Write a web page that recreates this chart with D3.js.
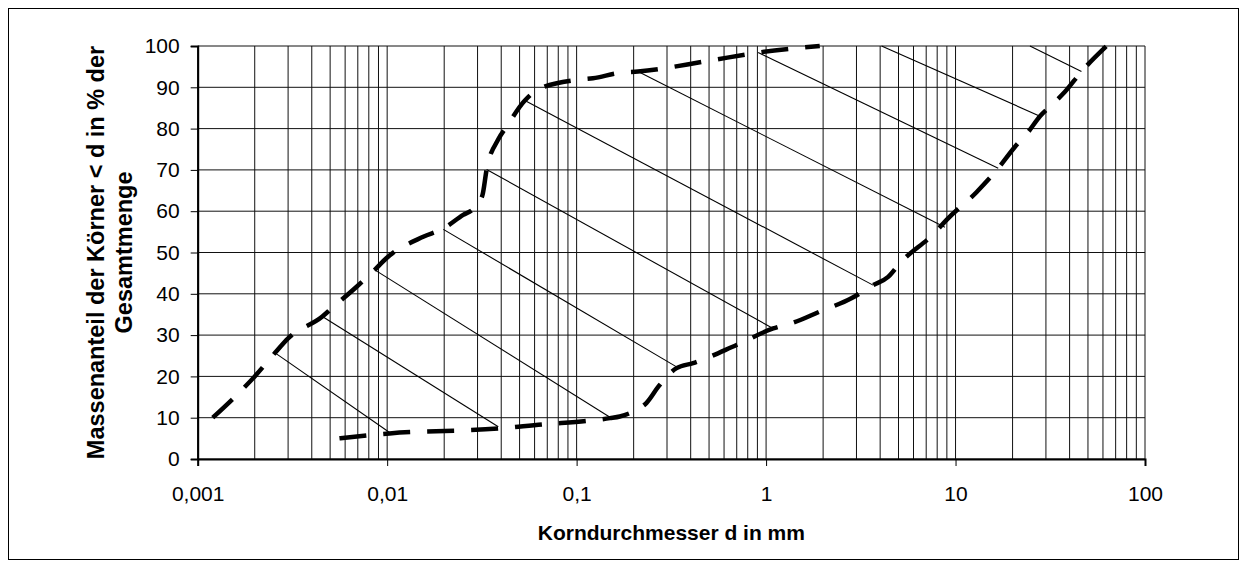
<!DOCTYPE html>
<html>
<head>
<meta charset="utf-8">
<script src="https://cdn.jsdelivr.net/npm/d3@7"></script>
<style>
  body { margin: 0; background: #fff; }
  text { font-family: Arial, "Liberation Sans", sans-serif; fill: #000; }
</style>
</head>
<body>
<svg width="1246" height="567"></svg>
<script>
// Sieblinien: obere und untere Grenzkurve (d in mm, Massenanteil in %)
var upperD   = [0.0012, 0.002, 0.00256, 0.003, 0.00455, 0.0051, 0.0069, 0.0086, 0.0099, 0.0155, 0.0198, 0.0252, 0.0284, 0.0318, 0.0335, 0.0386, 0.0427, 0.0533, 0.0627, 0.1, 0.122, 0.169, 0.211, 0.494, 0.908, 1.92];
var upperPct = [10, 20, 25.7, 29.2, 34.5, 36.5, 41.7, 45.8, 48.6, 53.8, 55.8, 59.1, 60.5, 63.8, 70.1, 77.4, 80.5, 86.8, 89.5, 91.8, 92.2, 93.5, 93.8, 96.4, 98.4, 100];

var lowerD   = [0.0056, 0.0103, 0.0394, 0.0667, 0.113, 0.15, 0.169, 0.203, 0.234, 0.27, 0.31, 0.337, 0.412, 0.698, 1.09, 1.39, 1.92, 2.82, 3.67, 4.41, 5.08, 7.78, 8.97, 12.9, 16.8, 20.6, 24.2, 27.9, 32.1, 37.8, 46.2, 62.7];
var lowerPct = [5.0, 6.2, 7.4, 8.4, 9.2, 9.9, 10.3, 11.7, 13.6, 17.5, 20.7, 22.0, 23.2, 27.6, 31.6, 33.0, 35.7, 38.9, 42.1, 44.1, 47.4, 54.8, 57.9, 64.6, 70.4, 75.6, 79.2, 83.0, 85.7, 88.9, 93.8, 100];

// duenne Verbindungslinien: von (fromD, fromPct) nach (toD, toPct)
var linkFromD   = [0.00256, 0.00455, 0.0086, 0.0198, 0.0335, 0.0533, 0.211, 0.908, 4.07, 24.7];
var linkFromPct = [25.7, 34.5, 45.8, 55.6, 70.1, 86.8, 93.8, 98.4, 100, 100];
var linkToD     = [0.0103, 0.0386, 0.15, 0.337, 1.09, 3.67, 8.79, 16.8, 27.9, 46.2];
var linkToPct   = [6.4, 7.8, 10.1, 22.3, 31.6, 42.1, 56.1, 70.4, 83.0, 93.8];

var xTickVals   = [0.001, 0.01, 0.1, 1, 10, 100];
var xTickLabels = ["0,001", "0,01", "0,1", "1", "10", "100"];
var yTickVals   = [0, 10, 20, 30, 40, 50, 60, 70, 80, 90, 100];

var svg = d3.select("svg");
var plotLeft = 197.7, plotRight = 1145, plotTop = 46, plotBottom = 459;

svg.append("rect")
   .attr("x", 8.5).attr("y", 8.5)
   .attr("width", 1230).attr("height", 551)
   .attr("fill", "#fff").attr("stroke", "#000").attr("stroke-width", 1);

var x = d3.scaleLog().domain([0.001, 100]).range([plotLeft, plotRight]);
var y = d3.scaleLinear().domain([0, 100]).range([plotBottom, plotTop]);

// Gitter
var minorX = [];
for (var e = -3; e < 2; e++) {
  for (var k = 1; k <= 9; k++) minorX.push(k * Math.pow(10, e));
}
minorX.push(100);

var grid = svg.append("g");
grid.selectAll("line.vx")
    .data(minorX)
    .enter().append("line")
    .attr("x1", function(d) { return x(d); })
    .attr("x2", function(d) { return x(d); })
    .attr("y1", plotTop).attr("y2", plotBottom)
    .attr("stroke", "#111").attr("stroke-width", 1);

grid.selectAll("line.hy")
    .data(yTickVals)
    .enter().append("line")
    .attr("x1", plotLeft).attr("x2", plotRight)
    .attr("y1", function(d) { return y(d); })
    .attr("y2", function(d) { return y(d); })
    .attr("stroke", "#111").attr("stroke-width", 1);

// Achsen
var xAxis = d3.axisBottom(x)
    .tickValues(xTickVals)
    .tickFormat(function(d, i) { return xTickLabels[i]; })
    .tickSize(7).tickPadding(20);
var gx = svg.append("g").attr("transform", "translate(0," + plotBottom + ")").call(xAxis);
gx.select(".domain").attr("stroke-width", 2);
gx.selectAll("text").style("font-size", "21px").attr("font-family", null);

var yAxis = d3.axisLeft(y)
    .tickValues(yTickVals)
    .tickSize(7).tickPadding(11);
var gy = svg.append("g").attr("transform", "translate(" + plotLeft + ",0)").call(yAxis);
gy.select(".domain").attr("stroke-width", 2);
gy.selectAll("text").style("font-size", "21px").attr("font-family", null);

// duenne Linien
svg.append("g").selectAll("line")
   .data(linkFromD)
   .enter().append("line")
   .attr("x1", function(d, i) { return x(linkFromD[i]); })
   .attr("y1", function(d, i) { return y(linkFromPct[i]); })
   .attr("x2", function(d, i) { return x(linkToD[i]); })
   .attr("y2", function(d, i) { return y(linkToPct[i]); })
   .attr("stroke", "#000").attr("stroke-width", 1.1);

// Grenzkurven
var line = d3.line()
    .x(function(d) { return x(d[0]); })
    .y(function(d) { return y(d[1]); })
    .curve(d3.curveMonotoneX);

var upper = upperD.map(function(d, i) { return [d, upperPct[i]]; });
var lower = lowerD.map(function(d, i) { return [d, lowerPct[i]]; });

[upper, lower].forEach(function(pts) {
  svg.append("path")
     .attr("d", line(pts))
     .attr("fill", "none")
     .attr("stroke", "#000")
     .attr("stroke-width", 4.5)
     .attr("stroke-dasharray", "27,17");
});

// Achsentitel
svg.append("text")
   .attr("x", (plotLeft + plotRight) / 2).attr("y", 540)
   .attr("text-anchor", "middle")
   .style("font-size", "21px").style("font-weight", "bold")
   .text("Korndurchmesser d in mm");

var yTitle = ["Massenanteil der Körner < d in % der", "Gesamtmenge"];
svg.selectAll("text.ytitle")
   .data(yTitle)
   .enter().append("text")
   .attr("class", "ytitle")
   .attr("transform", function(d, i) { return "translate(" + (104 + i * 28) + "," + ((plotTop + plotBottom) / 2) + ") rotate(-90)"; })
   .attr("text-anchor", "middle")
   .style("font-size", "23.5px").style("font-weight", "bold")
   .text(function(d) { return d; });
</script>
</body>
</html>
